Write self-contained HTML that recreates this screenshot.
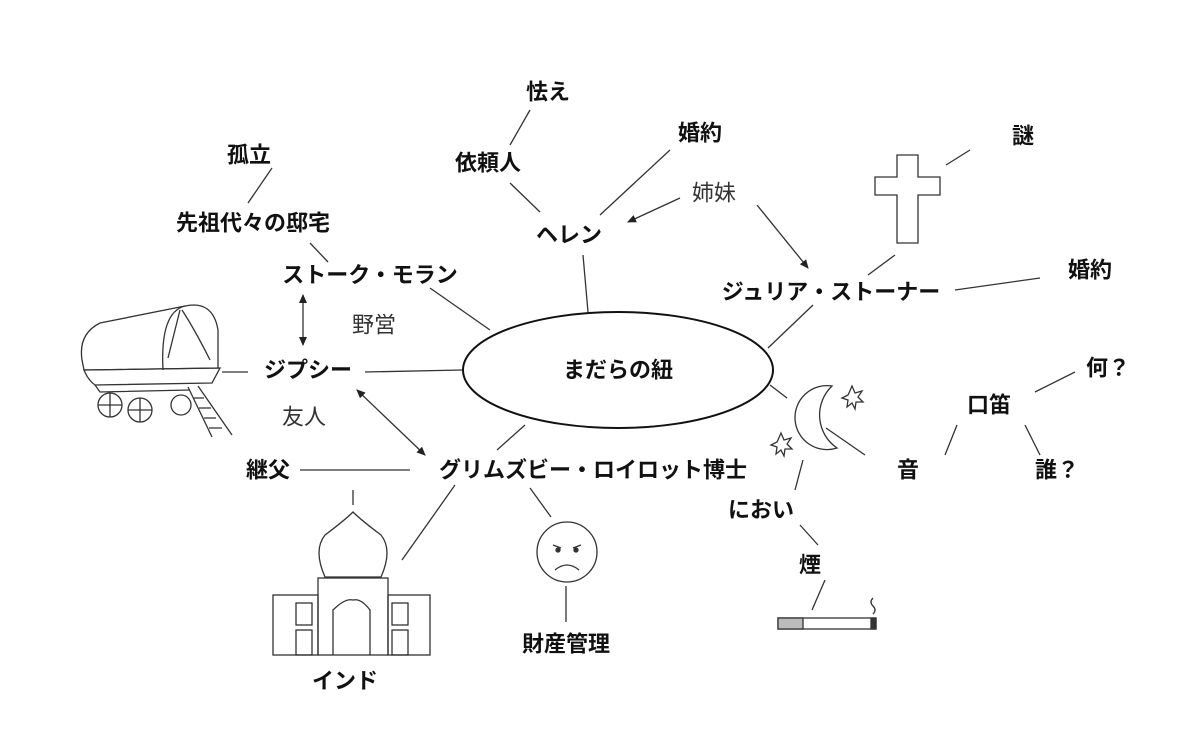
<!DOCTYPE html>
<html><head><meta charset="utf-8"><style>
html,body{margin:0;padding:0;background:#fff;}
svg{display:block;}
text{font-family:"Liberation Sans","Noto Sans CJK JP",sans-serif;font-size:22px;font-weight:bold;fill:#111;text-anchor:middle;dominant-baseline:central;}
.n{font-weight:normal;fill:#333;}
</style></head><body>
<svg width="1200" height="741" viewBox="0 0 1200 741">
<defs><marker id="a" markerWidth="10" markerHeight="10" refX="8" refY="5" orient="auto-start-reverse" markerUnits="userSpaceOnUse"><path d="M0,1 L9,5 L0,9 z" fill="#222"/></marker></defs>
<g stroke="#333" stroke-width="1.3" fill="none">
<ellipse cx="618" cy="370" rx="155" ry="58" stroke="#111" stroke-width="2"/>
<line x1="530" y1="110" x2="510" y2="145"/>
<line x1="510" y1="183" x2="540" y2="212"/>
<line x1="670" y1="150" x2="600" y2="215"/>
<line x1="583" y1="255" x2="588" y2="312"/>
<line x1="680" y1="198" x2="628" y2="222" marker-end="url(#a)"/>
<line x1="757" y1="205" x2="808" y2="268" marker-end="url(#a)"/>
<line x1="946" y1="165" x2="970" y2="150"/>
<line x1="895" y1="255" x2="868" y2="275"/>
<line x1="955" y1="290" x2="1040" y2="278"/>
<line x1="813" y1="305" x2="768" y2="348"/>
<line x1="272" y1="168" x2="248" y2="203"/>
<line x1="310" y1="243" x2="328" y2="262"/>
<line x1="430" y1="288" x2="490" y2="330"/>
<line x1="303" y1="295" x2="303" y2="345" marker-start="url(#a)" marker-end="url(#a)"/>
<line x1="222" y1="372" x2="248" y2="372"/>
<line x1="365" y1="372" x2="462" y2="370"/>
<line x1="357" y1="390" x2="425" y2="455" marker-start="url(#a)" marker-end="url(#a)"/>
<line x1="525" y1="425" x2="497" y2="450"/>
<line x1="300" y1="470" x2="410" y2="470"/>
<line x1="455" y1="485" x2="402" y2="560"/>
<line x1="530" y1="488" x2="551" y2="517"/>
<line x1="566" y1="586" x2="566" y2="622"/>
<line x1="770" y1="385" x2="787" y2="398"/>
<line x1="826" y1="428" x2="865" y2="455"/>
<line x1="803" y1="460" x2="795" y2="490"/>
<line x1="800" y1="525" x2="818" y2="545"/>
<line x1="825" y1="580" x2="812" y2="610"/>
<line x1="945" y1="455" x2="957" y2="425"/>
<line x1="1035" y1="392" x2="1075" y2="372"/>
<line x1="1025" y1="425" x2="1040" y2="455"/>
<!-- cross -->
<path d="M897,155 H918 V177 H940 V195 H918 V243 H897 V195 H875 V177 H897 Z"/>
<!-- face -->
<circle cx="567" cy="552" r="30"/>
<path d="M553,545 l8,3 M581,545 l-8,3 M555,570 q12,-10 24,0"/>
<circle cx="558" cy="550" r="2" fill="#333"/><circle cx="576" cy="550" r="2" fill="#333"/>
<!-- moon -->
<path d="M832,386 A32,32 0 1,0 837,448 A40,40 0 0,1 832,386 Z"/>
<path d="M849,393 l3,-7 l3,7 l7,-2 l-4,6 l5,5 l-7,0 l-1,7 l-3,-6 l-5,4 l1,-7 l-6,-2 l6,-3 z"/>
<path d="M778,440 l3,-7 l3,7 l7,-2 l-4,6 l5,5 l-7,0 l-1,7 l-3,-6 l-5,4 l1,-7 l-6,-2 l6,-3 z"/>
<!-- cigarette -->
<rect x="778" y="618" width="98" height="11"/>
<rect x="778" y="618" width="25" height="11" fill="#bbb"/>
<rect x="871" y="618" width="5" height="11" fill="#333"/>
<path d="M873,598 q-4,4 0,8 q4,4 0,8"/>
<!-- caravan -->
<path d="M83,365 Q76,335 100,323 L185,306 Q213,300 218,330 L218,368 L84,370 Z"/>
<path d="M185,306 Q160,312 163,370"/>
<path d="M180,310 L168,358 M182,310 Q195,330 210,360"/>
<path d="M84,370 L220,368 L212,383 L95,385 Q88,380 84,370 Z"/>
<path d="M95,385 L100,392 L190,390"/>
<circle cx="110" cy="405" r="12"/><circle cx="140" cy="410" r="12"/><circle cx="181" cy="405" r="10"/>
<path d="M110,393 v24 M98,405 h24 M140,398 v24 M128,410 h24"/>
<path d="M188,387 L212,437 M198,386 L232,435 M194,398 h10 M199,408 h12 M204,418 h12 M209,428 h13"/>
<!-- taj -->
<path d="M353,490 V505 M325,577 Q313,550 325,535 Q345,520 353,512 Q361,520 381,535 Q393,550 381,577 Z"/>
<rect x="318" y="578" width="70" height="77"/>
<rect x="273" y="595" width="45" height="60"/><rect x="388" y="595" width="42" height="60"/>
<path d="M333,655 V610 Q345,598 353,600 Q361,598 370,610 V655"/>
<rect x="296" y="603" width="16" height="22"/><rect x="296" y="630" width="16" height="25"/>
<rect x="392" y="603" width="16" height="22"/><rect x="392" y="630" width="16" height="25"/>
</g>
<text x="548" y="92">怯え</text>
<text x="488" y="163">依頼人</text>
<text x="700" y="133">婚約</text>
<text x="569" y="235">ヘレン</text>
<text x="714" y="193" class="n">姉妹</text>
<text x="1023" y="136">謎</text>
<text x="1090" y="270">婚約</text>
<text x="831" y="292">ジュリア・ストーナー</text>
<text x="249" y="155">孤立</text>
<text x="253" y="223">先祖代々の邸宅</text>
<text x="370" y="275">ストーク・モラン</text>
<text x="374" y="325" class="n">野営</text>
<text x="308" y="370">ジプシー</text>
<text x="304" y="417" class="n">友人</text>
<text x="618" y="370">まだらの紐</text>
<text x="268" y="470">継父</text>
<text x="593" y="470">グリムズビー・ロイロット博士</text>
<text x="566" y="644">財産管理</text>
<text x="345" y="681">インド</text>
<text x="1108" y="368">何？</text>
<text x="989" y="405">口笛</text>
<text x="908" y="470">音</text>
<text x="1057" y="470">誰？</text>
<text x="761" y="510">におい</text>
<text x="810" y="565">煙</text>
</svg>
</body></html>
